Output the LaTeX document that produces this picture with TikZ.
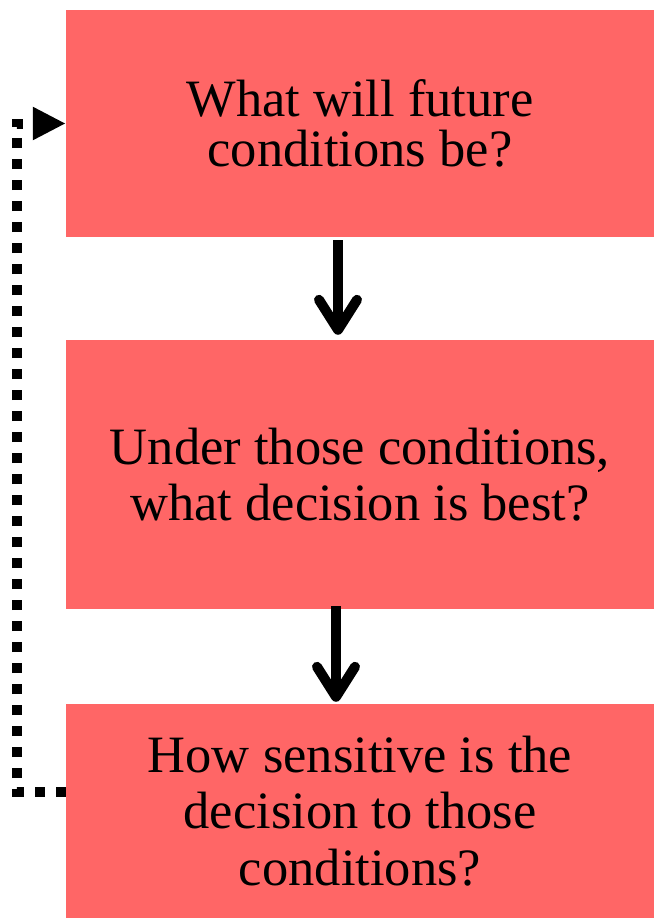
\documentclass[tikz,border=0pt]{standalone}
\usepackage{fontspec}
\setmainfont{Liberation Serif}
\usetikzlibrary{arrows.meta}
\definecolor{boxred}{RGB}{255,102,102}
\tikzset{
  qbox/.style={rectangle, fill=boxred, inner sep=0pt, minimum width=588pt, align=center, font=\fontsize{52.5pt}{56.5pt}\selectfont},
  flowarrow/.style={line width=10pt, -{Straight Barb[length=30pt,width=38pt,round]}},
  looparrow/.style={line width=10pt, dash pattern=on 10pt off 11pt, -{Triangle[length=33pt,width=31pt]}}
}
\begin{document}
\begin{tikzpicture}[x=1pt,y=-1pt]
\useasboundingbox (0,0) rectangle (654,918);
\node[qbox, minimum height=227pt, font=\fontsize{52.5pt}{50pt}\selectfont] (n1) at (360,123.5) {What will future\\conditions be?};
\node[qbox, minimum height=269pt] (n2) at (360,474.5) {Under those conditions,\\what decision is best?};
\node[qbox, minimum height=214pt] (n3) at (360,811) {How sensitive is the\\decision to those\\conditions?};
\draw[flowarrow] ([xshift=-22pt,yshift=-3pt]n1.south) -- ([xshift=-22pt,yshift=5pt]n2.north);
\draw[flowarrow] ([xshift=-24pt,yshift=3pt]n2.south) -- ([xshift=-24pt,yshift=2pt]n3.north);
\draw[looparrow] ([yshift=19pt]n3.west) -- ++(-49,0) |- (n1.west);
\end{tikzpicture}
\end{document}
